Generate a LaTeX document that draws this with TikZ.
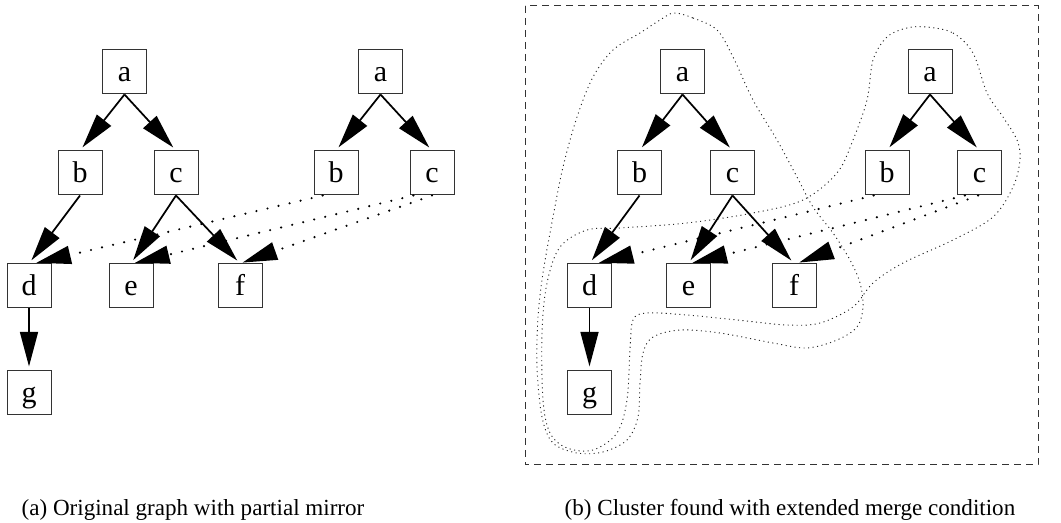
\documentclass[tikz,border=0pt]{standalone}
\usepackage{fontspec}
\setmainfont{Liberation Serif}
\usetikzlibrary{arrows.meta}
\tikzset{>={Triangle[length=26pt,width=13.5pt]},
  vtx/.style={draw=black!80,line width=0.75pt,minimum width=33pt,minimum height=33pt,inner sep=0pt,text height=15pt,text depth=0pt,font=\fontsize{22.5}{23}\selectfont},
  edge/.style={->,line width=1.3pt,shorten >=3pt},
  mirror/.style={->,line width=1.8pt,line cap=round,dash pattern=on 0pt off 8.5pt,shorten >=2pt},
  hull/.style={black!85,line width=0.7pt,dash pattern=on 0.8pt off 2.6pt},
  subcap/.style={anchor=base,font=\fontsize{17.3}{20}\selectfont}}

\begin{document}
\begin{tikzpicture}[x=0.75pt,y=-0.75pt]
\useasboundingbox (0,0) rectangle (1061,523);
\node[vtx] (la) at (124.5,72) {a};
\node[vtx] (lb) at (80,173) {b};
\node[vtx] (lc) at (176,173) {c};
\node[vtx] (ma) at (380.5,72) {a};
\node[vtx] (mb) at (336,173) {b};
\node[vtx] (mc) at (432,173) {c};
\node[vtx] (ld) at (29,286) {d};
\node[vtx] (le) at (131,286) {e};
\node[vtx] (lf) at (240,286) {f};
\node[vtx] (lg) at (29,393) {g};
\draw[edge] (la.south) -- (lb.north);
\draw[edge] (la.south) -- (lc.north);
\draw[edge] (ma.south) -- (mb.north);
\draw[edge] (ma.south) -- (mc.north);
\draw[edge] (lb.south) -- (ld.north);
\draw[edge] (lc.south) -- (le.north);
\draw[edge] (lc.south) -- (lf.north);
\draw[edge] (ld.south) -- (lg.north);
\draw[mirror] ([xshift=-10pt]mb.south) -- ([xshift=3.5pt]ld.north);
\draw[mirror] ([xshift=-14pt]mc.south) -- ([xshift=1pt]le.north);
\draw[mirror] (mc.south) -- (lf.north);
\node[subcap] (capa) at (193,516) {(a) Original graph with partial mirror};
\draw[dash pattern=on 5pt off 4pt,black!80,line width=0.75pt] (525,6) rectangle (1038,465);
\node[vtx] (ra) at (682.5,72) {a};
\node[vtx] (rb) at (639.5,173) {b};
\node[vtx] (rc) at (732.5,173) {c};
\node[vtx] (rma) at (930,72) {a};
\node[vtx] (rmb) at (887,173) {b};
\node[vtx] (rmc) at (979.5,173) {c};
\node[vtx] (rd) at (589.5,286) {d};
\node[vtx] (re) at (688.5,286) {e};
\node[vtx] (rf) at (794,286) {f};
\node[vtx] (rg) at (589.5,393) {g};
\draw[edge] (ra.south) -- (rb.north);
\draw[edge] (ra.south) -- (rc.north);
\draw[edge] (rma.south) -- (rmb.north);
\draw[edge] (rma.south) -- (rmc.north);
\draw[edge] (rb.south) -- (rd.north);
\draw[edge] (rc.south) -- (re.north);
\draw[edge] (rc.south) -- (rf.north);
\draw[edge] (rd.south) -- (rg.north);
\draw[mirror] ([xshift=-10pt]rmb.south) -- ([xshift=5pt]rd.north);
\draw[mirror] ([xshift=-11pt]rmc.south) -- ([xshift=1pt]re.north);
\draw[mirror] ([xshift=-1pt]rmc.south) -- ([xshift=2pt]rf.north);
\draw[hull] plot[smooth cycle,tension=0.55] coordinates {(674,13) (693,18) (717,30) (733,57) (753,100) (777,140) (797,177) (813,207) (833,233) (850,260) (860,283) (863,307) (857,327) (837,340) (807,348) (773,343) (720,333) (680,330) (653,337) (643,353) (640,383) (638,417) (627,440) (603,452) (577,453) (553,443) (542,417) (537,367) (538,317) (543,273) (553,217) (563,167) (577,117) (593,77) (613,50) (640,33) (660,20)};
\draw[hull] plot[smooth cycle,tension=0.55] coordinates {(927,27) (953,33) (973,53) (987,93) (1003,117) (1017,140) (1020,160) (1013,187) (993,217) (953,240) (903,263) (873,283) (853,307) (820,323) (787,325) (737,320) (687,315) (647,313) (633,320) (630,350) (627,400) (617,433) (593,450) (567,448) (550,433) (543,400) (542,333) (547,283) (560,247) (587,230) (620,228) (687,223) (753,213) (803,200) (837,173) (853,140) (867,100) (873,60) (887,37) (907,28)};
\node[subcap] (capb) at (790,516) {(b) Cluster found with extended merge condition};
\end{tikzpicture}
\end{document}
